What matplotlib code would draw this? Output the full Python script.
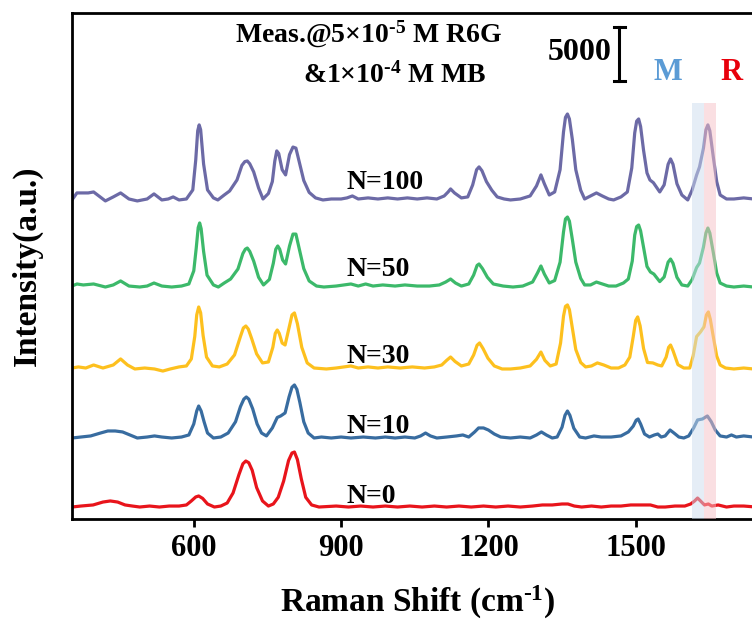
import matplotlib
matplotlib.use("Agg")
import matplotlib.pyplot as plt

plt.rcParams['font.family'] = ['Liberation Serif', 'DejaVu Serif']
plt.rcParams['font.weight'] = 'bold'
plt.rcParams['mathtext.fontset'] = 'custom'
plt.rcParams['mathtext.rm'] = 'Liberation Serif:bold'
plt.rcParams['mathtext.it'] = 'Liberation Serif:bold'
plt.rcParams['mathtext.bf'] = 'Liberation Serif:bold'
plt.rcParams['mathtext.default'] = 'bf'

# ---------------- data (Raman shift cm-1, intensity counts above own baseline) ----------
n100 = [(352,0),(362,650),(385,650),(396,740),(420,-90),(436,280),(451,650),(468,90),(485,-90),
        (505,90),(519,560),(535,0),(548,90),(558,280),(570,0),(585,90),(598,930),(604,3700),
        (608,6400),(611,6950),(614,6500),(620,3330),(628,930),(640,190),(649,0),(662,460),
        (673,830),(688,1850),(698,3200),(704,3550),(709,3610),(714,3350),(722,2600),(732,1110),
        (741,90),(752,600),(760,1700),(765,3600),(769,4540),(773,4300),(780,2800),(787,2320),
        (795,4200),(802,4900),(808,4800),(815,3500),(824,1800),(835,700),(848,190),(863,0),
        (880,90),(900,90),(912,190),(923,370),(935,90),(955,190),(975,90),(995,190),(1015,90),
        (1035,190),(1055,90),(1075,190),(1095,90),(1110,370),(1118,740),(1123,1020),(1131,650),
        (1145,190),(1158,280),(1168,1390),(1176,2800),(1181,3060),(1187,2700),(1196,1700),
        (1207,900),(1218,280),(1232,90),(1245,0),(1265,90),(1285,370),(1298,1300),(1307,2320),
        (1314,1500),(1324,460),(1335,740),(1346,2800),(1353,6300),(1357,7650),(1361,7960),
        (1365,7500),(1371,5600),(1378,2800),(1388,900),(1396,90),(1408,370),(1420,650),
        (1432,370),(1445,90),(1455,0),(1470,280),(1483,740),(1492,2960),(1498,6200),(1502,7300),
        (1506,7500),(1510,6800),(1516,4600),(1523,2500),(1529,1850),(1536,1600),(1549,740),
        (1558,1400),(1566,3300),(1571,3800),(1576,3300),(1584,1500),(1594,460),(1606,0),
        (1615,930),(1624,2300),(1630,3060),(1638,4800),(1643,6500),(1647,6950),(1651,6400),
        (1658,4000),(1665,1700),(1672,460),(1685,90),(1700,90),(1720,190),(1740,90),(1760,190),
        (1780,90),(1800,190)]

n50 = [(352,90),(362,280),(375,190),(396,280),(420,0),(436,190),(451,560),(468,90),(490,0),
       (505,90),(519,370),(535,90),(555,0),(575,90),(590,280),(600,1500),(605,3600),(609,5500),
       (612,5930),(615,5400),(620,3300),(627,1100),(640,190),(650,0),(662,370),(675,740),
       (690,1670),(700,3100),(705,3500),(709,3610),(714,3300),(722,2400),(732,900),(742,190),
       (754,700),(762,2200),(767,3500),(771,3800),(775,3500),(781,2500),(787,2130),(795,3800),
       (802,4900),(808,4900),(815,3500),(824,1700),(835,560),(850,90),(865,0),(890,90),
       (905,190),(920,280),(935,90),(950,280),(965,90),(985,190),(1010,90),(1030,190),(1055,90),
       (1080,90),(1100,190),(1113,460),(1123,740),(1133,370),(1145,90),(1160,280),(1170,1110),
       (1177,2000),(1181,2130),(1188,1700),(1198,900),(1210,280),(1230,90),(1250,0),(1270,90),
       (1290,460),(1300,1300),(1307,1950),(1314,1200),(1324,370),(1335,600),(1346,2300),
       (1353,5100),(1357,6300),(1361,6480),(1365,6100),(1371,4400),(1378,2300),(1388,800),
       (1396,190),(1408,190),(1420,460),(1432,280),(1445,90),(1460,90),(1475,370),(1485,740),
       (1493,2400),(1498,4800),(1502,5600),(1506,5740),(1510,5200),(1516,3700),(1523,1900),
       (1530,1390),(1537,1200),(1549,500),(1558,930),(1566,2300),(1571,2590),(1576,2200),
       (1584,900),(1594,190),(1606,90),(1615,700),(1624,1800),(1630,2220),(1638,3700),
       (1643,5000),(1647,5460),(1651,5000),(1658,3200),(1665,1300),(1672,370),(1685,90),
       (1700,0),(1720,90),(1740,0),(1755,190),(1770,90),(1800,90)]

n30 = [(352,90),(365,190),(380,90),(396,370),(415,90),(436,370),(451,930),(465,370),(480,0),
       (500,90),(520,0),(537,-190),(552,0),(570,190),(585,280),(595,930),(602,3000),(606,5000),
       (610,5740),(614,5200),(619,3100),(626,1100),(638,280),(652,190),(668,460),(683,1300),
       (695,3000),(701,3800),(706,3980),(711,3700),(718,2800),(728,1400),(740,560),(752,650),
       (761,2000),(766,3300),(770,3610),(774,3300),(780,2400),(786,2220),(794,3800),(800,5000),
       (805,5190),(811,4200),(820,2000),(831,560),(845,90),(870,0),(890,90),(905,190),(920,280),
       (935,90),(955,190),(975,90),(995,190),(1020,90),(1045,190),(1070,90),(1090,190),
       (1105,370),(1115,800),(1123,1110),(1132,700),(1145,280),(1160,460),(1170,1300),
       (1177,2200),(1182,2410),(1189,1900),(1199,1000),(1212,280),(1228,0),(1245,0),(1265,90),
       (1285,280),(1298,900),(1307,1570),(1315,800),(1326,280),(1338,460),(1347,2400),
       (1353,4900),(1357,5800),(1361,5930),(1365,5500),(1371,3800),(1378,1800),(1388,600),
       (1398,190),(1410,280),(1422,560),(1435,370),(1450,90),(1465,90),(1478,370),(1488,1100),
       (1495,3000),(1500,4500),(1504,4820),(1509,4000),(1516,1900),(1524,600),(1535,560),
       (1545,370),(1553,280),(1562,1100),(1567,2000),(1571,2220),(1576,1700),(1586,400),
       (1598,90),(1610,90),(1617,1200),(1624,3000),(1632,3430),(1639,3900),(1644,5000),
       (1648,5280),(1652,4600),(1658,3000),(1665,1200),(1672,370),(1683,90),(1700,0),(1720,90),
       (1740,0),(1760,90),(1780,90),(1800,90)]

n10 = [(352,0),(370,90),(390,190),(410,460),(425,650),(440,650),(455,560),(470,280),(485,0),
       (505,90),(520,190),(535,90),(555,0),(575,90),(590,280),(600,1300),(606,2500),(610,2960),
       (615,2500),(621,1500),(628,460),(640,0),(655,90),(670,460),(685,1500),(695,2900),
       (702,3600),(707,3800),(712,3600),(720,2700),(729,1300),(738,460),(748,190),(760,930),
       (770,1900),(777,2040),(786,2320),(794,3800),(800,4700),(805,4910),(810,4500),(816,3300),
       (824,1500),(833,460),(845,0),(860,90),(880,0),(900,90),(920,0),(945,90),(970,0),(990,90),
       (1010,0),(1030,90),(1050,0),(1062,190),(1072,460),(1082,190),(1095,0),(1115,90),
       (1135,190),(1148,280),(1160,90),(1172,560),(1180,930),(1190,930),(1200,740),(1212,370),
       (1225,90),(1245,0),(1265,90),(1285,0),(1298,280),(1308,560),(1318,280),(1330,0),
       (1340,90),(1350,1000),(1356,2100),(1361,2500),(1366,2100),(1374,900),(1386,90),(1398,0),
       (1415,190),(1430,90),(1450,90),(1470,190),(1485,560),(1495,1100),(1501,1650),(1505,1760),
       (1510,1300),(1518,370),(1528,90),(1538,280),(1545,370),(1552,90),(1560,190),(1570,740),
       (1578,460),(1588,90),(1598,0),(1608,190),(1618,930),(1626,1670),(1636,1760),(1646,2040),
       (1654,1500),(1662,740),(1672,190),(1685,90),(1695,280),(1705,90),(1720,190),(1740,90),
       (1760,0),(1780,90),(1800,90)]

n0 = [(352,0),(370,90),(395,190),(415,460),(430,560),(445,460),(460,190),(475,90),(490,0),
      (510,90),(530,0),(550,90),(570,90),(585,190),(595,560),(604,930),(610,1020),(618,800),
      (628,280),(642,0),(655,90),(668,370),(680,1300),(692,3000),(700,4000),(706,4260),
      (712,4100),(719,3400),(728,1800),(740,560),(752,90),(762,280),(772,900),(783,2400),
      (793,4300),(800,5000),(805,5090),(811,4400),(819,2600),(828,900),(840,190),(855,0),
      (890,90),(915,0),(940,90),(965,0),(990,90),(1015,0),(1040,90),(1065,0),(1090,90),(1115,0),
      (1140,90),(1165,0),(1190,90),(1215,0),(1240,90),(1265,0),(1290,90),(1310,190),(1330,190),
      (1350,280),(1362,280),(1375,90),(1390,0),(1410,90),(1430,0),(1450,90),(1470,90),
      (1490,190),(1510,190),(1530,190),(1545,0),(1560,0),(1580,90),(1600,90),(1612,280),
      (1620,560),(1626,830),(1632,560),(1640,190),(1648,280),(1655,90),(1668,190),(1685,0),
      (1700,90),(1720,90),(1745,0),(1770,90),(1800,0)]

series = [n0, n10, n30, n50, n100]
labels = ['N=0', 'N=10', 'N=30', 'N=50', 'N=100']
offsets = [0, 6390, 12780, 20370, 28430]
colors = ['#E8141B', '#386CA0', '#FDC01E', '#3CB96A', '#6C6AA6']
label_y = [930, 7410, 13890, 21950, 30000]

band_m = (1614, 1640)
band_r = (1640, 1664)
scale_value = 5000
xticks = [600, 900, 1200, 1500]
HY = '\u2010'  # short hyphen used in the superscripts

# ---------------- figure ----------------
fig = plt.figure(figsize=(7.52, 6.28), dpi=100)
ax = fig.add_axes([72/752, 1-519/628, 711/752, (519-13)/628])
ax.set_xlim(352, 1800)
ax.set_ylim(-1110, 45740)

for data, off, col in zip(series, offsets, colors):
    xs = [p[0] for p in data]
    ys = [p[1] + off for p in data]
    ax.plot(xs, ys, color=col, lw=2.3, zorder=2, solid_joinstyle='round', solid_capstyle='round')

for lab, ly in zip(labels, label_y):
    ax.text(912, ly, lab, fontsize=20, fontweight='bold', ha='left', va='center', zorder=5)

band_top = 0.822
ax.axvspan(*band_m, ymin=0, ymax=band_top, color='#CDDDEF', alpha=0.5, lw=0, zorder=3)
ax.axvspan(*band_r, ymin=0, ymax=band_top, color='#F7C1C7', alpha=0.5, lw=0, zorder=3)

# scale bar
bx, by = 1467, 39450
ax.plot([bx, bx], [by, by + scale_value], color='black', lw=2.2, zorder=5)
ax.plot([bx - 11, bx + 11], [by, by], color='black', lw=2.2, zorder=5)
ax.plot([bx - 11, bx + 11], [by + scale_value, by + scale_value], color='black', lw=2.2, zorder=5)
ax.text(1451, 42040, str(scale_value), fontsize=23, fontweight='bold', ha='right', va='center')

ax.text(1565, 40190, 'M', fontsize=22, fontweight='bold', color='#5B9BD5', ha='center', va='center')
ax.text(1695, 40190, 'R', fontsize=22, fontweight='bold', color='#E8000B', ha='center', va='center')

ax.text(683, 43710, 'Meas.@5×10$^{' + HY + '5}$ M R6G', fontsize=20, fontweight='bold',
        ha='left', va='center')
ax.text(822, 40000, '&1×10$^{' + HY + '4}$ M MB', fontsize=20, fontweight='bold',
        ha='left', va='center')

ax.set_xticks(xticks)
ax.set_xticklabels([str(t) for t in xticks], fontsize=22, fontweight='bold')
ax.set_yticks([])
ax.tick_params(axis='x', direction='out', length=6, width=2, pad=5)
for s in ['left', 'bottom', 'top', 'right']:
    ax.spines[s].set_linewidth(2.0)

fig.text(418/752, 1-602/628, 'Raman Shift (cm$^{' + HY + '1}$)', fontsize=24, fontweight='bold',
         ha='center', va='center')
fig.text(27/752, 1-266/628, 'Intensity(a.u.)', fontsize=24, fontweight='bold', rotation=90,
         ha='center', va='center')

fig.savefig('out.png', dpi=100)
